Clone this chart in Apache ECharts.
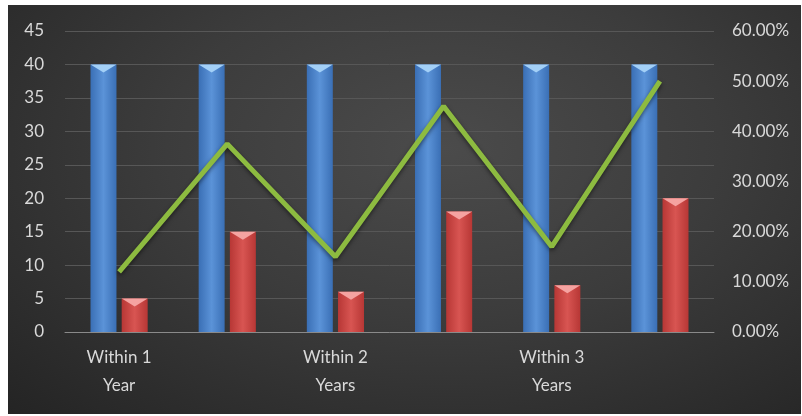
<!DOCTYPE html>
<html>
<head>
<meta charset="utf-8">
<script src="https://cdn.jsdelivr.net/npm/echarts@6/dist/echarts.min.js"></script>
<style>
html,body{margin:0;padding:0;background:#fff;}
#c{position:absolute;left:8px;top:5px;width:793px;height:409px;
background:radial-gradient(ellipse at 55% 35%, #4b4b4b 0%, #3c3c3c 45%, #242424 100%);}
</style>
</head>
<body>
<div id="c"></div>
<script>
const categories = ["Within 1\nYear", "", "Within 2\nYears", "", "Within 3\nYears", ""];
const blueValues = [40, 40, 40, 40, 40, 40];
const redValues = [5, 15, 6, 18, 7, 20];
const lineValues = [0.12, 0.375, 0.15, 0.45, 0.17, 0.50];
const leftTicks = {min: 0, max: 45, interval: 5};
const rightTicks = {min: 0, max: 0.6, interval: 0.1};

const chart = echarts.init(document.getElementById('c'), null, {renderer: 'canvas'});
const font = 'Lato, "Open Sans", sans-serif';
const blueGrad = new echarts.graphic.LinearGradient(0, 0, 1, 0, [
  {offset: 0, color: '#3a6fb5'}, {offset: 0.5, color: '#5b93d8'}, {offset: 1, color: '#3a6fb5'}]);
const redGrad = new echarts.graphic.LinearGradient(0, 0, 1, 0, [
  {offset: 0, color: '#b73735'}, {offset: 0.5, color: '#d85552'}, {offset: 1, color: '#b73735'}]);
chart.setOption({
  animation: false,
  grid: {left: 57, right: 87, top: 26, bottom: 82, containLabel: false},
  xAxis: {
    type: 'category', data: categories,
    axisLine: {lineStyle: {color: '#8a8a8a', width: 1}},
    axisTick: {show: false},
    axisLabel: {interval: 0, color: '#d9d9d9', fontSize: 17, fontFamily: font, lineHeight: 28, margin: 12}
  },
  yAxis: [{
    type: 'value', min: leftTicks.min, max: leftTicks.max, interval: leftTicks.interval,
    axisLine: {show: false}, axisTick: {show: false},
    splitLine: {lineStyle: {color: '#575757', width: 1}},
    axisLabel: {color: '#d9d9d9', fontSize: 17, fontFamily: font, margin: 21, align: 'right'}
  }, {
    type: 'value', min: rightTicks.min, max: rightTicks.max, interval: rightTicks.interval,
    axisLine: {show: false}, axisTick: {show: false}, splitLine: {show: false},
    axisLabel: {color: '#d9d9d9', fontSize: 17, fontFamily: font, margin: 18,
      formatter: v => (v * 100).toFixed(2) + '%'}
  }],
  series: [{
    type: 'bar', data: blueValues, barWidth: 26, barGap: '20%',
    itemStyle: {color: blueGrad}, z: 2
  }, {
    type: 'bar', data: redValues, barWidth: 26, barGap: '20%',
    itemStyle: {color: redGrad}, z: 2
  }, {
    type: 'pictorialBar', data: blueValues, symbol: 'triangle', symbolRotate: 180,
    symbolSize: [26, 8], symbolPosition: 'end', barWidth: 26, barGap: '20%',
    itemStyle: {color: '#a3d0f7'}, z: 3, silent: true
  }, {
    type: 'pictorialBar', data: redValues, symbol: 'triangle', symbolRotate: 180,
    symbolSize: [26, 8], symbolPosition: 'end', barWidth: 26, barGap: '20%',
    itemStyle: {color: '#f5a3a1'}, z: 3, silent: true
  }, {
    type: 'line', yAxisIndex: 1, data: lineValues, symbol: 'none',
    lineStyle: {color: '#8dbb40', width: 5, shadowColor: 'rgba(0,0,0,0.5)', shadowBlur: 4, shadowOffsetY: 2},
    z: 5
  }]
});
</script>
</body>
</html>
